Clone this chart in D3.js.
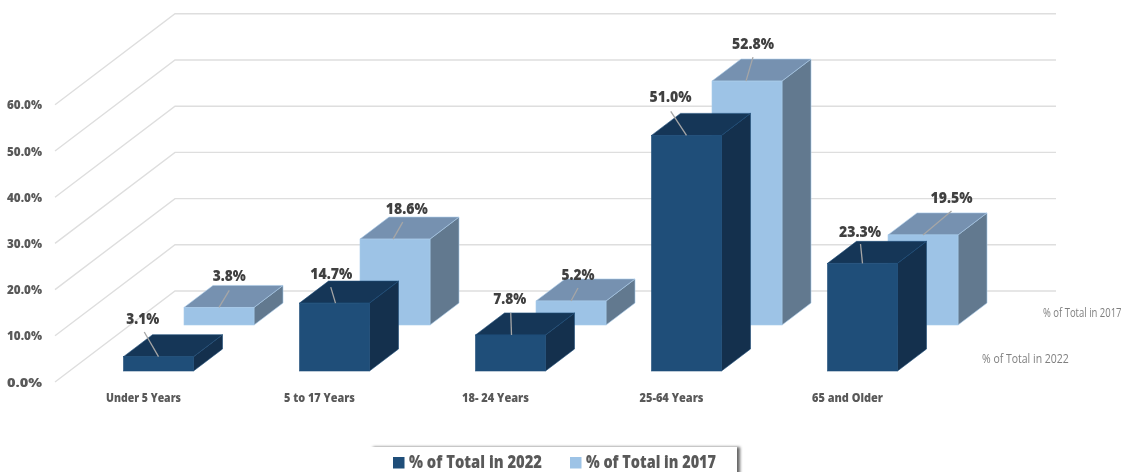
<!DOCTYPE html>
<html><head><meta charset="utf-8">
<script src="https://cdn.jsdelivr.net/npm/d3@7"></script>
<style>
html,body{margin:0;padding:0;background:#fff;overflow:hidden}
svg{display:block;filter:blur(0.35px)}
text{font-family:"Open Sans","Noto Sans",sans-serif}
</style></head><body>
<svg id="c" width="1125" height="472"></svg>
<script>
const categories = ["Under 5 Years","5 to 17 Years","18- 24 Years","25-64 Years","65 and Older"];
const values2022 = [3.1,14.7,7.8,51.0,23.3];
const values2017 = [3.8,18.6,5.2,52.8,19.5];
const yTicks = [0,10,20,30,40,50,60];
const seriesNames = ["% of Total  in 2022","% of Total in 2017"];
// label placement relative to the bar's top-front centre: [labelDx,labelDy,leaderDx,leaderDy,leaderEndDx]
const nudge2022 = [[-15.75,-38.7,-14.25,-24.7,0],[-3.25,-30,-3.75,-16,1],[-0.75,-37,0.25,-22,1],[-16,-39,-15.75,-24,0],[-2.5,-32,-2,-19.4,0]];
const nudge2017 = [[10.25,-32,10.25,-17,0],[11.75,-31,7.75,-17,-2],[7,-27,7,-13,0],[6,-38,6,-24,-1],[28.5,-38,28.5,-24,0]];

const svg = d3.select("#c");
const y = d3.scaleLinear().domain([0,60]).range([382,104.8]);
const x = d3.scaleBand().domain(categories).range([55.5,935.5]);
const barW = 70, depthX = 29, depthY = 22;
const wallX = 120, wallY = 91, left = 55, right = 1056;
const line = d3.line();

// walls / gridlines
svg.append("g").selectAll("path").data(yTicks).join("path")
  .attr("d", v => line([[left,y(v)],[left+wallX,y(v)-wallY],[right,y(v)-wallY]]))
  .attr("fill","none").attr("stroke","#dedede").attr("stroke-width",1.4);

// axes
const yAxis = svg.append("g").attr("transform","translate(47,0)")
  .call(d3.axisLeft(y).tickValues(yTicks).tickSize(0).tickPadding(5).tickFormat(d=>d.toFixed(1)+"%"));
yAxis.select(".domain").remove();
yAxis.selectAll("text").style("font-size","12.5px").style("font-weight",800).attr("fill","#595959")
  .attr("textLength",35).attr("lengthAdjust","spacingAndGlyphs");
const xAxis = svg.append("g").attr("transform","translate(0,390)")
  .call(d3.axisBottom(x).tickSize(0).tickPadding(3));
xAxis.select(".domain").remove();
xAxis.selectAll("text").style("font-size","12.5px").style("font-weight",800).attr("fill","#595959")
  .attr("textLength",d=>({"Under 5 Years":75,"5 to 17 Years":71,"18- 24 Years":67,"25-64 Years":64,"65 and Older":71})[d])
  .attr("lengthAdjust","spacingAndGlyphs");

function drawBars(values, nudges, offset, base, colors, edge){
  const g = svg.append("g");
  const h = v => (y(0)-y(v));
  const bars = g.selectAll("g").data(categories.map((c,i)=>({c,v:values[i],n:nudges[i]}))).join("g");
  const X = d => x(d.c)+x.bandwidth()/2+offset;
  const T = d => base-h(d.v);
  bars.append("path").attr("fill",colors.side).attr("stroke",edge).attr("stroke-width",.6)
    .attr("d",d=>line([[X(d)+barW,T(d)],[X(d)+barW+depthX,T(d)-depthY],[X(d)+barW+depthX,base-depthY],[X(d)+barW,base]])+"Z");
  bars.append("path").attr("fill",colors.top).attr("stroke",edge).attr("stroke-width",.6)
    .attr("d",d=>line([[X(d),T(d)],[X(d)+depthX,T(d)-depthY],[X(d)+barW+depthX,T(d)-depthY],[X(d)+barW,T(d)]])+"Z");
  bars.append("rect").attr("fill",colors.front).attr("stroke",edge).attr("stroke-width",.6)
    .attr("x",X).attr("y",T).attr("width",barW).attr("height",d=>h(d.v));
  return {bars,X,T};
}
const back = drawBars(values2017,nudge2017,40.5,325,{front:"#9dc3e6",top:"#7691b0",side:"#62798f"},"#a9cbea");
const front = drawBars(values2022,nudge2022,-20,371,{front:"#1f4e79",top:"#153657",side:"#14304d"},"#1f4e79");

function labels(o){
  o.bars.append("line").attr("stroke","#a6a6a6").attr("stroke-width",1.3)
    .attr("x1",d=>o.X(d)+barW/2+d.n[2]).attr("y1",d=>o.T(d)+d.n[3])
    .attr("x2",d=>o.X(d)+barW/2+d.n[4]).attr("y2",d=>o.T(d));
}
labels(back);labels(front);
// value labels on top of everything
[back,front].forEach(o=>{
  svg.append("g").selectAll("text").data(o.bars.data()).join("text")
    .attr("x",d=>o.X(d)+barW/2+d.n[0]).attr("y",d=>o.T(d)+d.n[1]).attr("dy","0.36em")
    .attr("text-anchor","middle").attr("fill","#404040")
    .style("font-size","16px").style("font-weight",800)
    .attr("textLength",d=>d.v>=10?42:33).attr("lengthAdjust","spacingAndGlyphs")
    .text(d=>d.v.toFixed(1)+"%");
});

// depth-axis series names, horizontally condensed
const sideLabels = svg.append("g").attr("fill","#7f7f7f").style("font-size","12.5px");
sideLabels.append("text").attr("transform","translate(982,363) scale(0.84,1)").text(seriesNames[0]);
sideLabels.append("text").attr("transform","translate(1043,317) scale(0.76,1)").text(seriesNames[1]);

// legend
const defs = svg.append("defs");
const f = defs.append("filter").attr("id","sh").attr("x","-5%").attr("y","-30%").attr("width","110%").attr("height","160%");
f.append("feDropShadow").attr("dx",3).attr("dy",0).attr("stdDeviation",1.6).attr("flood-color","#000").attr("flood-opacity",.6);
svg.append("rect").attr("x",370).attr("y",447).attr("width",367).attr("height",40).attr("fill","#fff").attr("filter","url(#sh)");
const legendItems = [{n:seriesNames[0],c:"#1f4e79",x:393,w:133},{n:seriesNames[1],c:"#9dc3e6",x:570,w:130}];
const lg = svg.append("g").selectAll("g").data(legendItems).join("g");
lg.append("rect").attr("x",d=>d.x).attr("y",457).attr("width",11.5).attr("height",11.5).attr("fill",d=>d.c);
lg.append("text").attr("x",d=>d.x+16).attr("y",468).attr("fill","#595959")
  .style("font-size","18px").style("font-weight",800)
  .attr("textLength",d=>d.w).attr("lengthAdjust","spacingAndGlyphs").text(d=>d.n);
</script></body></html>
